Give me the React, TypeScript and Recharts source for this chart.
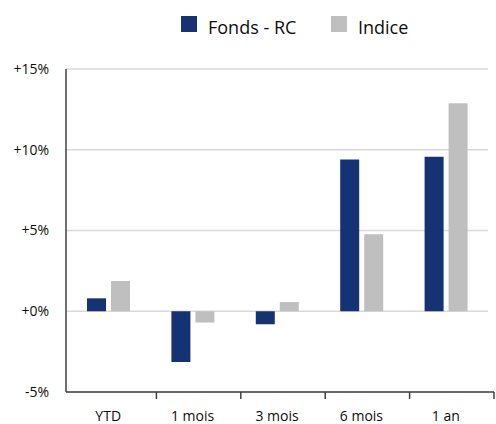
import React from "react";
import {
  BarChart,
  Bar,
  XAxis,
  YAxis,
  CartesianGrid,
  Legend,
} from "recharts";

const CATEGORIES = ["YTD", "1 mois", "3 mois", "6 mois", "1 an"];
const FONDS = [0.8, -3.15, -0.8, 9.4, 9.57];
const INDICE = [1.87, -0.7, 0.57, 4.77, 12.88];
const Y_TICKS = [-5, 0, 5, 10, 15];
const SERIES_NAMES = ["Fonds - RC", "Indice"];

const NAVY = "#153274";
const GREY = "#bfbfbf";
const GRID = "#d9d9d9";
const AXIS = "#404040";
const TEXT = "#0d0d0d";
const FONT = "'Open Sans', sans-serif";

const W = 496;
const H = 424;
const PLOT_LEFT = 66;
const PLOT_RIGHT = 488;
const BAND = (PLOT_RIGHT - PLOT_LEFT) / CATEGORIES.length;

const data = CATEGORIES.map((c, i) => ({
  name: c,
  fonds: FONDS[i],
  indice: INDICE[i],
}));

function formatPct(v: number): string {
  if (v < 0) return `${v}%`;
  return `+${v}%`;
}

// excel draws the category ticks a few px right of the band edges
function XTick(props: any) {
  const { x, y, payload, index } = props;
  const tickX = x + BAND / 2 + 6;
  const last = index === CATEGORIES.length - 1;
  return (
    <g>
      <line x1={tickX} y1={y} x2={tickX} y2={y + 7} stroke={AXIS} strokeWidth={1.5} />
      {last && (
        <line x1={PLOT_RIGHT} y1={y} x2={tickX} y2={y} stroke={AXIS} strokeWidth={1.5} />
      )}
      <text
        x={x}
        y={y + 29}
        textAnchor="middle"
        fontSize={14}
        fontFamily={FONT}
        fill={TEXT}
      >
        {payload.value}
      </text>
    </g>
  );
}

function LegendContent(props: any) {
  const { payload } = props;
  const lefts = [181, 331];
  return (
    <div style={{ position: "relative", height: 40, fontFamily: FONT }}>
      {(payload || []).map((p: any, i: number) => (
        <div
          key={p.value}
          style={{
            position: "absolute",
            left: lefts[i],
            top: 16,
            display: "flex",
            alignItems: "center",
            height: 16,
          }}
        >
          <span
            style={{
              width: 16,
              height: 16,
              background: p.color,
              display: "inline-block",
              marginRight: 11,
            }}
          />
          <span
            style={{
              fontSize: 18,
              color: TEXT,
              lineHeight: "16px",
              position: "relative",
              top: 3,
            }}
          >
            {p.value}
          </span>
        </div>
      ))}
    </div>
  );
}

export default function App() {
  if (typeof document !== "undefined") document.body.style.margin = "0";
  return (
    <div style={{ width: W, height: H, background: "#fff" }}>
      <BarChart
        width={W}
        height={H}
        data={data}
        margin={{ top: 69, right: W - PLOT_RIGHT, bottom: 0, left: 10 }}
        barSize={19}
        barGap={5}
      >
        <CartesianGrid vertical={false} stroke={GRID} strokeWidth={1.5} />
        <XAxis
          dataKey="name"
          height={32}
          tickLine={false}
          tickSize={0}
          tickMargin={0}
          axisLine={{ stroke: AXIS, strokeWidth: 1.5 }}
          tick={<XTick />}
          interval={0}
        />
        <YAxis
          width={56}
          domain={[-5, 15]}
          ticks={Y_TICKS}
          tickFormatter={formatPct}
          tickLine={false}
          tickSize={0}
          tickMargin={17}
          axisLine={{ stroke: AXIS, strokeWidth: 1.5 }}
          tick={{ fontSize: 14, fontFamily: FONT, fill: TEXT }}
        />
        <Legend
          verticalAlign="middle"
          align="center"
          layout="horizontal"
          wrapperStyle={{ top: 0, left: 0, width: W }}
          content={<LegendContent />}
        />
        <Bar dataKey="fonds" name={SERIES_NAMES[0]} fill={NAVY} isAnimationActive={false} />
        <Bar dataKey="indice" name={SERIES_NAMES[1]} fill={GREY} isAnimationActive={false} />
      </BarChart>
    </div>
  );
}
